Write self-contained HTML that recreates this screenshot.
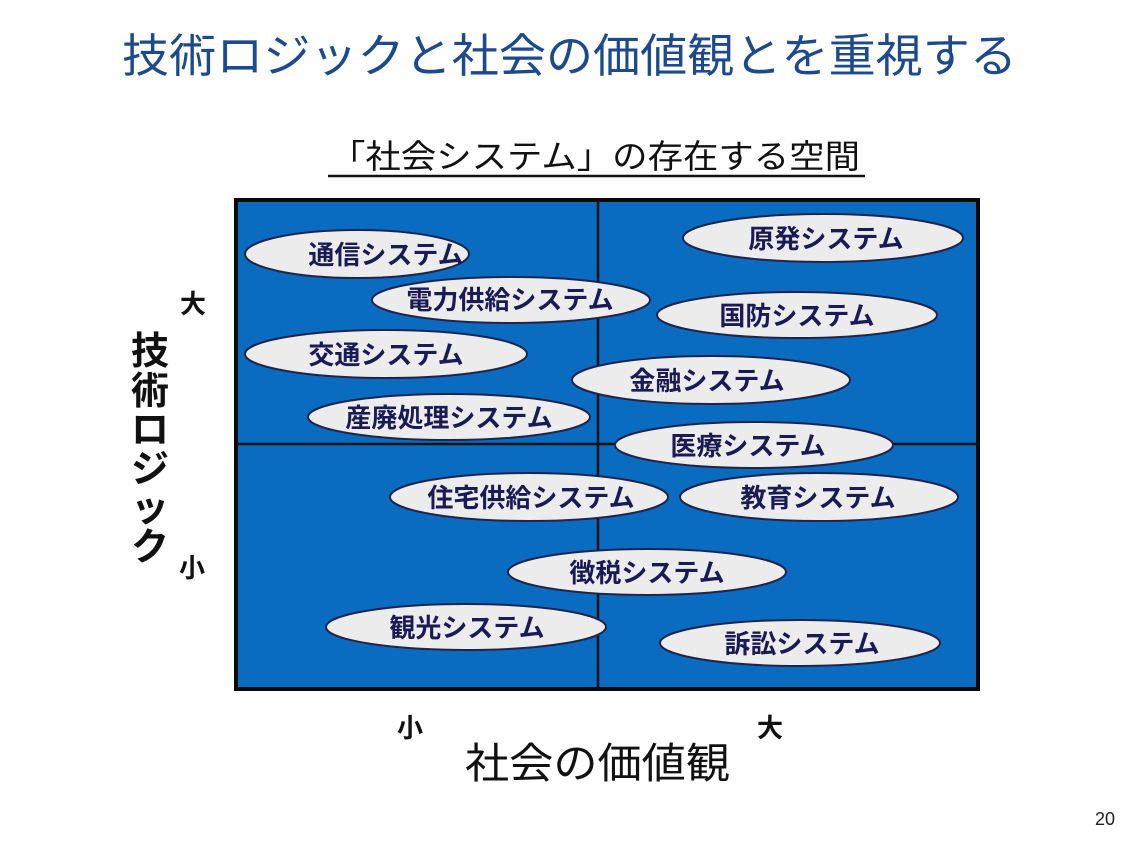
<!DOCTYPE html>
<html><head><meta charset="utf-8"><style>
html,body{margin:0;padding:0;background:#fff;}
svg{display:block;}
text{font-family:"Liberation Sans","Noto Sans CJK JP",sans-serif;}
</style></head><body>
<svg width="1138" height="857" viewBox="0 0 1138 857" xmlns="http://www.w3.org/2000/svg">
<text x="122" y="72" font-size="46" fill="#1c4a8c" textLength="895" lengthAdjust="spacingAndGlyphs">技術ロジックと社会の価値観とを重視する</text>
<text x="330" y="168" font-size="33" fill="#111" textLength="530" lengthAdjust="spacingAndGlyphs">「社会システム」の存在する空間</text>
<line x1="328" y1="176" x2="865" y2="176" stroke="#111" stroke-width="2.5"/>
<rect x="236" y="200" width="742" height="489" fill="#0a6cc0" stroke="#0a0a0a" stroke-width="4"/>
<line x1="598" y1="200" x2="598" y2="689" stroke="#111" stroke-width="2.5"/>
<line x1="236" y1="444" x2="978" y2="444" stroke="#111" stroke-width="2.5"/>
<g fill="#ececec" stroke="#20244a" stroke-width="2">
<ellipse cx="357" cy="254" rx="112" ry="24"/>
<ellipse cx="386" cy="354" rx="141" ry="24"/>
<ellipse cx="511" cy="300" rx="139" ry="23"/>
<ellipse cx="449" cy="417" rx="141" ry="23"/>
<ellipse cx="823" cy="238" rx="140" ry="24"/>
<ellipse cx="797" cy="315" rx="140" ry="23"/>
<ellipse cx="711" cy="380" rx="139" ry="24"/>
<ellipse cx="754" cy="445" rx="139" ry="23"/>
<ellipse cx="529" cy="497" rx="139" ry="24"/>
<ellipse cx="819" cy="497" rx="139" ry="24"/>
<ellipse cx="647" cy="572" rx="139" ry="23"/>
<ellipse cx="466" cy="627" rx="140" ry="23"/>
<ellipse cx="800" cy="643" rx="140" ry="23"/>
</g>
<g font-size="26" font-weight="bold" fill="#1a1a55" text-anchor="middle">
<text x="386" y="264">通信システム</text>
<text x="510" y="309">電力供給システム</text>
<text x="386" y="364">交通システム</text>
<text x="449" y="427">産廃処理システム</text>
<text x="826" y="248">原発システム</text>
<text x="797" y="325">国防システム</text>
<text x="707" y="390">金融システム</text>
<text x="748" y="455">医療システム</text>
<text x="531" y="507">住宅供給システム</text>
<text x="818" y="507">教育システム</text>
<text x="647" y="582">徴税システム</text>
<text x="467" y="637">観光システム</text>
<text x="802" y="653">訴訟システム</text>
</g>
<g font-size="38" fill="#111" text-anchor="middle" font-weight="bold">
<text x="150" y="364">技</text>
<text x="150" y="404">術</text>
<text x="150" y="443">ロ</text>
<text x="150" y="482">ジ</text>
<text x="150" y="521">ッ</text>
<text x="150" y="560">ク</text>
</g>
<g font-size="26" font-weight="bold" fill="#111" text-anchor="middle">
<text x="193" y="313">大</text>
<text x="192" y="577">小</text>
<text x="410" y="737">小</text>
<text x="770" y="737">大</text>
</g>
<text x="465" y="778" font-size="42" fill="#111" textLength="265" lengthAdjust="spacingAndGlyphs">社会の価値観</text>
<text x="1105" y="825" font-size="18" fill="#222" text-anchor="middle">20</text>
</svg>
</body></html>
